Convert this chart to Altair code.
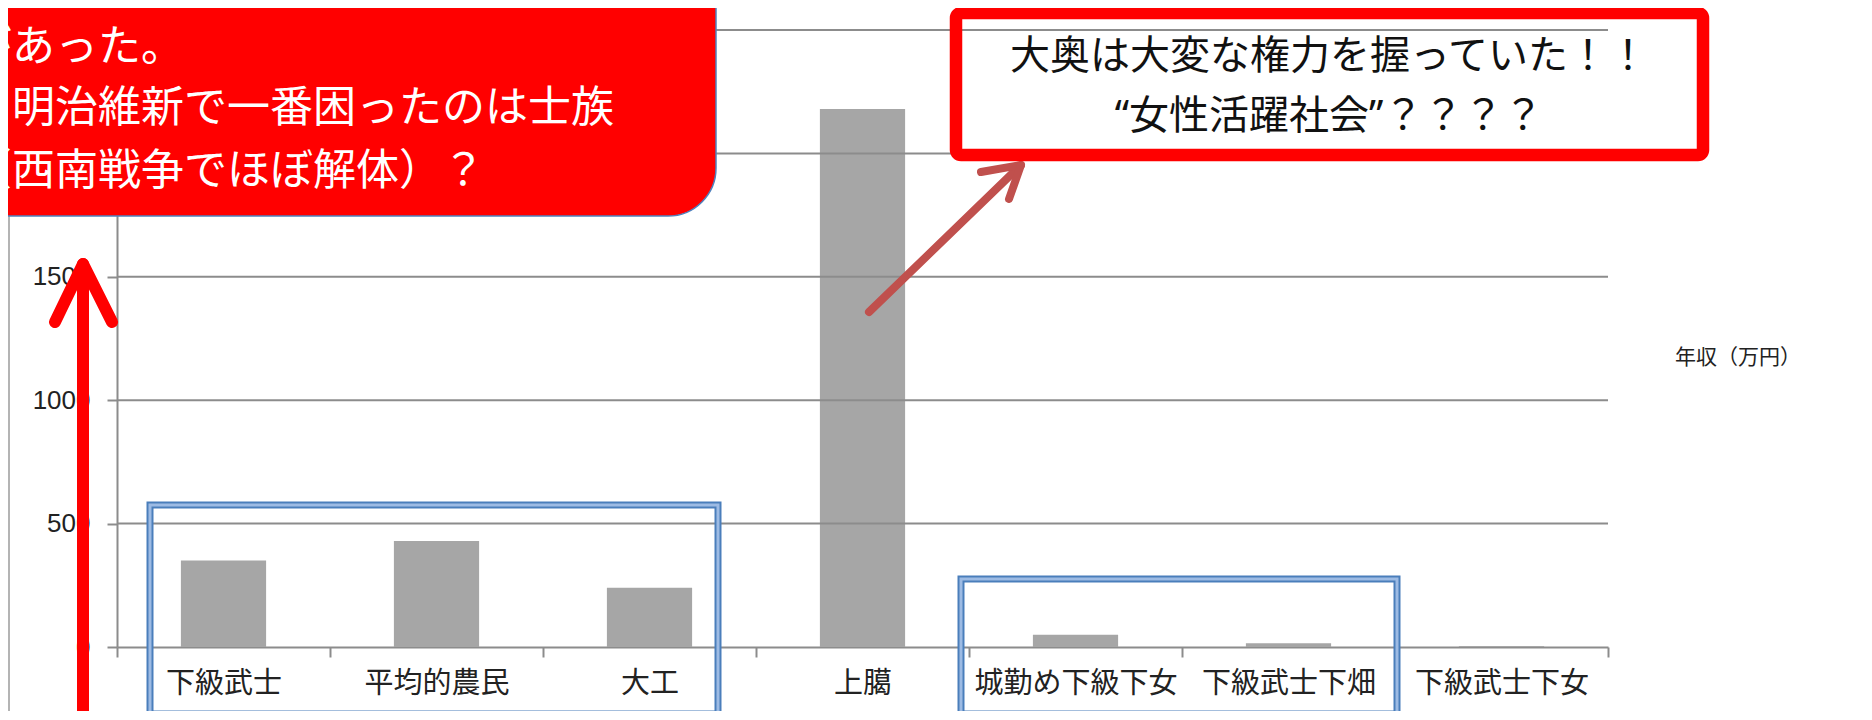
import altair as alt
import pandas as pd

# ---- data ----
categories = ["下級武士", "平均的農民", "大工", "上臈", "城勤め下級下女", "下級武士下畑", "下級武士下女"]
income = [350, 430, 240, 2180, 50, 15, 4]
y_ticks = [0, 500, 1000, 1500, 2000, 2500]
legend_label = "年収（万円）"
note_left = ["があった。", "明治維新で一番困ったのは士族", "（西南戦争でほぼ解体）？"]
note_right = ["大奥は大変な権力を握っていた！！", "“女性活躍社会”？？？？"]

# ---- layout ----
W, H = 1491, 617
PAD = {"left": 109, "top": 22, "right": 250, "bottom": 64}
OX, OY = 8 + PAD["left"], 8 + PAD["top"]


def px(x):
    return x - OX


def py(y):
    return y - OY


df = pd.DataFrame({"cat": categories, "income": income})
grid_df = pd.DataFrame({"income": y_ticks[1:]})
one = pd.DataFrame({"k": [0]})

GRAY = "#8c8c8c"
y_enc = alt.Y(
    "income:Q",
    scale=alt.Scale(domain=[0, 2500], nice=False, zero=True),
    axis=alt.Axis(values=y_ticks, format="d", title=None, grid=False, ticks=True, tickSize=10,
                  tickWidth=2, tickColor=GRAY, domainColor=GRAY, domainWidth=2,
                  labelFontSize=26, labelFont="Liberation Sans", labelColor="#222222",
                  labelPadding=17),
)
x_enc = alt.X(
    "cat:N", sort=categories,
    scale=alt.Scale(paddingInner=0, paddingOuter=0),
    axis=alt.Axis(title=None, labelAngle=0, tickBand="extent", tickSize=10, tickWidth=2,
                  tickColor=GRAY, domainColor=GRAY, domainWidth=2, labelFontSize=29,
                  labelFont="Noto Sans CJK JP", labelColor="#222222", labelPadding=12,
                  labelLimit=0, labelOverlap=False, grid=False),
)

bars = alt.Chart(df).mark_bar(color="#a6a6a6", width=alt.RelativeBandSize(0.4)).encode(
    x=x_enc, y=y_enc)
grid = alt.Chart(grid_df).mark_rule(color=GRAY, strokeWidth=2).encode(
    y=y_enc, x=alt.value(0), x2=alt.value(W))


def rule(x1, y1, x2, y2, color, width):
    return alt.Chart(one).mark_rule(color=color, strokeWidth=width, strokeCap="round").encode(
        x=alt.value(px(x1)), y=alt.value(py(y1)), x2=alt.value(px(x2)), y2=alt.value(py(y2)))


def box(x1, y1, x2, y2, stroke, width, fill="#ffffff", fill_opacity=0.0, radius=0):
    return alt.Chart(one).mark_rect(stroke=stroke, strokeWidth=width, fill=fill,
                                    fillOpacity=fill_opacity, cornerRadius=radius).encode(
        x=alt.value(px(x1)), y=alt.value(py(y1)), x2=alt.value(px(x2)), y2=alt.value(py(y2)))


def label(text, x, y, size, color, align="left", font="Noto Sans CJK JP"):
    return alt.Chart(one).mark_text(align=align, baseline="middle", fontSize=size,
                                    font=font, color=color).encode(
        x=alt.value(px(x)), y=alt.value(py(y)), text=alt.value(text))


frame = rule(9, 8, 9, 730, "#b4b4b4", 2)

# blue boxes
blue1a = box(150, 505, 718, 714, "#4a7ebb", 7)
blue1b = box(150, 505, 718, 714, "#9dbbe4", 3)
blue2a = box(961, 579, 1397, 714, "#4a7ebb", 7)
blue2b = box(961, 579, 1397, 714, "#9dbbe4", 3)

# small arrow to right note
ARROW2 = "#c0504d"
a2_shaft = rule(869, 312, 1020, 166, ARROW2, 8)
a2_w1 = rule(1021, 165, 981, 172, ARROW2, 8)
a2_w2 = rule(1021, 165, 1009, 199, ARROW2, 8)

# right note
MIXED = "Noto Sans, Noto Sans CJK JP"
box2 = box(956, 13, 1703, 155, "#ff0000", 12.5, radius=5)
t2a = label(note_right[0], 1329, 57, 40, "#111111", align="center")
t2b = label(note_right[1], 1329, 117, 40, "#111111", align="center", font=MIXED)

# left note
box1 = box(-300, -300, 716, 216, "#4f81bd", 1.5, fill="#ff0000", fill_opacity=1.0, radius=48)
t1a = label(note_left[0], -31, 48, 43, "#ffffff")
t1b = label(note_left[1], 12, 109, 43, "#ffffff")
t1c = label(note_left[2], -31, 172, 43, "#ffffff")

# big red arrow
a1_shaft = rule(83, 268, 83, 740, "#ff0000", 12)
a1_w1 = rule(83, 264, 55, 322, "#ff0000", 12)
a1_w2 = rule(83, 264, 112, 322, "#ff0000", 12)

legend = label(legend_label, 1738, 358, 21, "#222222", align="center")

chart = alt.layer(
    bars, grid, frame, blue1a, blue1b, blue2a, blue2b,
    a2_shaft, a2_w1, a2_w2, box2, t2a, t2b, box1, t1a, t1b, t1c,
    a1_shaft, a1_w1, a1_w2, legend,
).properties(
    width=W, height=H,
    autosize=alt.AutoSizeParams(type="none"),
    padding=PAD,
    background="#ffffff",
).configure_view(stroke=None)

chart.save("out.html", embed_options={"renderer": "svg", "actions": False})
